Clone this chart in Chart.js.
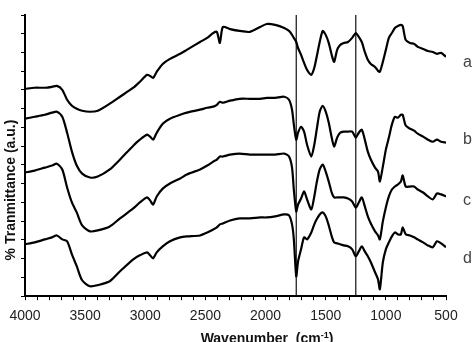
<!DOCTYPE html>
<html>
<head>
<meta charset="utf-8">
<script src="https://cdn.jsdelivr.net/npm/chart.js@4.4.0/dist/chart.umd.min.js"></script>
<style>
  html, body { margin: 0; padding: 0; background: #fff; }
</style>
</head>
<body>
<canvas id="ftir" width="474" height="342"></canvas>
<script>
// wavenumber grid (cm-1), shared by all four spectra
const wavenumbers = [
  4000, 3920, 3835, 3775, 3735, 3690, 3650, 3610, 3570, 3525,
  3460, 3395, 3295, 3210, 3100, 3045, 2985, 2960, 2935, 2905,
  2855, 2795, 2710, 2655, 2545, 2485, 2435, 2405, 2380, 2355,
  2295, 2215, 2130, 2045, 1990, 1920, 1845, 1805, 1780, 1765,
  1745, 1730, 1705, 1680, 1655, 1620, 1595, 1575, 1550, 1525,
  1500, 1475, 1450, 1430, 1405, 1380, 1350, 1315, 1280, 1250,
  1225, 1200, 1175, 1150, 1125, 1090, 1065, 1050, 1025, 1000,
  975, 950, 925, 900, 875, 860, 835, 800, 765, 735,
  690, 650, 610, 575, 540, 500
];

// % transmittance (offset, arbitrary units)
const spectrumA = [
  110.6, 111.2, 111.2, 111.7, 112.2, 110.1, 104.8, 101.6, 100.0, 98.9,
  98.4, 98.9, 102.7, 106.4, 111.2, 114.4, 118.1, 117.5, 116.5, 119.7,
  123.9, 126.6, 129.3, 131.4, 135.6, 137.8, 140.4, 141.0, 135.1, 143.6,
  142.5, 141.5, 141.0, 143.6, 145.2, 144.7, 143.1, 141.5, 139.4, 137.8,
  135.6, 132.4, 128.7, 124.5, 120.7, 118.1, 121.8, 127.7, 135.6, 141.5,
  139.4, 135.1, 128.7, 125.0, 131.4, 134.0, 135.1, 135.6, 137.8, 140.4,
  138.3, 135.6, 130.3, 126.1, 123.9, 122.3, 120.2, 119.7, 125.0, 131.4,
  137.8, 140.4, 143.1, 144.1, 144.7, 144.1, 136.7, 135.1, 134.6, 133.0,
  131.9, 130.8, 130.3, 129.3, 129.8, 127.7
];
const spectrumB = [
  94.7, 95.7, 96.8, 97.9, 98.4, 95.7, 87.2, 77.1, 69.7, 65.4,
  63.3, 63.8, 67.6, 72.9, 80.3, 83.5, 86.2, 85.1, 83.5, 87.2,
  92.0, 94.7, 96.8, 97.9, 99.5, 100.5, 101.1, 102.1, 103.7, 103.2,
  104.3, 105.3, 105.3, 105.3, 105.8, 105.8, 106.4, 104.8, 99.5, 91.5,
  83.5, 87.2, 90.4, 87.8, 80.8, 74.5, 80.8, 88.8, 98.4, 101.6,
  98.4, 92.6, 84.6, 79.8, 84.6, 87.2, 87.8, 87.8, 87.8, 84.6,
  87.2, 88.8, 83.5, 77.1, 72.9, 68.6, 66.5, 61.2, 69.1, 78.2,
  84.6, 91.5, 95.7, 95.2, 96.8, 96.8, 91.0, 89.4, 88.3, 86.7,
  85.1, 83.5, 82.4, 83.5, 82.4, 81.9
];
const spectrumC = [
  66.0, 67.0, 68.6, 69.7, 70.7, 67.6, 58.0, 50.0, 44.7, 37.8,
  34.6, 35.1, 37.2, 41.5, 46.8, 50.0, 52.7, 51.1, 48.9, 53.2,
  57.4, 60.1, 62.8, 64.9, 67.6, 69.7, 71.8, 72.9, 74.5, 74.5,
  75.5, 76.1, 75.5, 75.5, 75.5, 75.5, 76.1, 74.5, 68.6, 56.9,
  45.2, 48.9, 52.1, 55.9, 51.6, 46.3, 53.2, 60.6, 67.6, 70.2,
  66.5, 61.2, 55.3, 52.7, 52.7, 52.7, 52.7, 52.1, 50.5, 47.3,
  50.0, 52.7, 47.9, 42.6, 38.8, 34.6, 32.4, 30.3, 39.9, 47.3,
  53.2, 56.9, 58.5, 59.6, 61.2, 64.4, 58.5, 58.5, 58.5, 56.9,
  55.3, 53.2, 51.6, 54.8, 54.3, 53.2
];
const spectrumD = [
  27.7, 28.7, 30.3, 31.4, 32.4, 30.3, 29.3, 22.3, 16.0, 8.5,
  5.3, 5.9, 8.0, 13.3, 19.7, 21.8, 23.4, 21.8, 20.2, 23.4,
  26.6, 29.3, 31.4, 31.9, 32.4, 34.0, 35.6, 36.7, 38.3, 38.8,
  40.4, 41.5, 41.5, 42.0, 42.0, 42.6, 43.6, 43.1, 38.3, 30.3,
  10.6, 18.6, 25.0, 31.4, 30.3, 34.0, 38.3, 41.0, 43.6, 44.7,
  42.6, 37.8, 31.9, 28.7, 28.2, 27.7, 27.1, 26.6, 25.0, 21.3,
  23.9, 26.6, 23.9, 21.3, 18.1, 12.8, 9.0, 3.7, 18.1, 25.0,
  28.7, 31.9, 34.0, 33.0, 33.0, 36.7, 33.0, 32.4, 31.4, 30.3,
  28.7, 27.1, 26.1, 29.3, 28.2, 26.1
];

const curveNames = ['a', 'b', 'c', 'd'];
const markerLines = [1745, 1250];
const xTickLabels = [4000, 3500, 3000, 2500, 2000, 1500, 1000, 500];

const FONT = '"Liberation Sans", Arial, sans-serif';

const toPoints = (values) => values.map((v, i) => ({ x: wavenumbers[i], y: v }));

const spectra = [spectrumA, spectrumB, spectrumC, spectrumD].map((values, i) => ({
  label: curveNames[i],
  data: toPoints(values),
  borderColor: '#000',
  borderWidth: 2.2,
  pointRadius: 0,
  tension: 0.25,
  fill: false,
}));

const verticals = markerLines.map((w) => ({
  label: 'line ' + w,
  data: [{ x: w, y: 0 }, { x: w, y: 150 }],
  borderColor: '#111',
  borderWidth: 1.2,
  pointRadius: 0,
  fill: false,
}));

// axis titles and the a-d tags next to the curves
const chartText = {
  id: 'chartText',
  afterDraw(chart) {
    const ctx = chart.ctx;
    ctx.save();
    ctx.fillStyle = '#111';
    ctx.textBaseline = 'alphabetic';

    // x title with superscript
    const big = 'bold 14px ' + FONT;
    const small = 'bold 9px ' + FONT;
    const part1 = 'Wavenumber  (cm';
    const sup = '-1';
    const part2 = ')';
    ctx.font = big;
    const w1 = ctx.measureText(part1).width;
    const w3 = ctx.measureText(part2).width;
    ctx.font = small;
    const w2 = ctx.measureText(sup).width;
    let x = 267 - (w1 + w2 + w3) / 2;
    const base = 343;
    ctx.textAlign = 'left';
    ctx.font = big;
    ctx.fillText(part1, x, base);
    x += w1;
    ctx.font = small;
    ctx.fillText(sup, x, base - 5);
    x += w2;
    ctx.font = big;
    ctx.fillText(part2, x, base);

    // y title
    ctx.save();
    ctx.translate(15, 190);
    ctx.rotate(-Math.PI / 2);
    ctx.textAlign = 'center';
    ctx.font = big;
    ctx.fillText('% Tranmittance (a.u.)', 0, 0);
    ctx.restore();

    // curve tags
    ctx.fillStyle = '#444';
    ctx.font = '16px ' + FONT;
    ctx.textAlign = 'left';
    const tagY = [67, 144, 205, 263];
    curveNames.forEach((name, i) => ctx.fillText(name, 463, tagY[i]));
    ctx.restore();
  }
};

new Chart(document.getElementById('ftir'), {
  type: 'line',
  data: { datasets: [...spectra, ...verticals] },
  options: {
    responsive: false,
    animation: false,
    layout: { padding: { left: 21, right: 28, top: 15, bottom: 9 } },
    plugins: { legend: { display: false }, tooltip: { enabled: false } },
    scales: {
      x: {
        type: 'linear',
        reverse: true,
        min: 500,
        max: 4000,
        border: { display: true, color: '#000', width: 2 },
        grid: { drawOnChartArea: false, drawTicks: true, tickLength: 4, color: '#000', lineWidth: 1 },
        ticks: {
          stepSize: 100,
          autoSkip: false,
          maxRotation: 0,
          padding: 8,
          color: '#222',
          font: { family: FONT, size: 14 },
          callback: (v) => (xTickLabels.includes(v) ? String(v) : ''),
        },
      },
      y: {
        min: 0,
        max: 150,
        border: { display: true, color: '#000', width: 2 },
        grid: { drawOnChartArea: false, drawTicks: true, tickLength: 4, color: '#000', lineWidth: 1 },
        ticks: { stepSize: 10, display: false },
      },
    },
  },
  plugins: [chartText],
});
</script>
</body>
</html>
